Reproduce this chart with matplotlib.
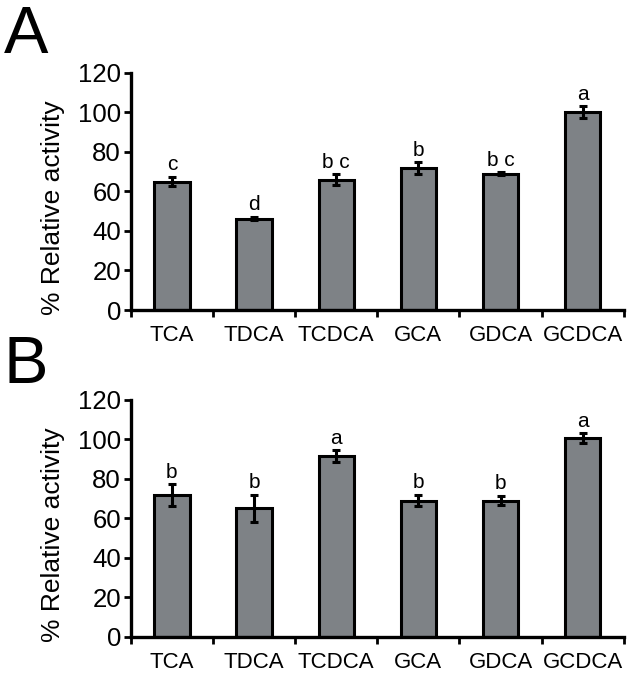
#!/usr/bin/env python3
"""Relative activity of bile acid conjugates, panels A and B."""

import matplotlib
matplotlib.use("Agg")
import matplotlib.pyplot as plt
import numpy as np

CATEGORIES = ["TCA", "TDCA", "TCDCA", "GCA", "GDCA", "GCDCA"]

A_MEAN = [65, 46.3, 66, 72, 69, 100]
A_ERR = [2.5, 1.0, 2.8, 3.0, 0.8, 3.0]
A_LETTERS = ["c", "d", "b c", "b", "b c", "a"]

B_MEAN = [71.8, 65, 91.5, 69, 69, 100.5]
B_ERR = [5.5, 7.0, 3.0, 3.0, 2.5, 2.5]
B_LETTERS = ["b", "b", "a", "b", "b", "a"]

BAR_COLOR = "#7e8286"
FONT = ["Liberation Sans", "DejaVu Sans"]


def _panel(ax, means, errs, letters):
    x = np.arange(len(CATEGORIES))
    ax.bar(x, means, width=0.43, color=BAR_COLOR, edgecolor="black", linewidth=2.2, zorder=2)
    ax.errorbar(x, means, yerr=errs, fmt="none", ecolor="black", elinewidth=2.2,
                capsize=3, capthick=2.2, zorder=3)
    for xi, m, e, lab in zip(x, means, errs, letters):
        ax.annotate(lab, (xi, m + e), xytext=(0, 4.5), textcoords="offset points",
                    ha="center", va="baseline", fontsize=15, family=FONT)

    ax.set_xlim(-0.5, len(CATEGORIES) - 0.5)
    ax.set_ylim(0, 120)
    ax.set_yticks(np.arange(0, 121, 20))
    ax.set_yticklabels([str(v) for v in range(0, 121, 20)], family=FONT, fontsize=18.5)
    ax.set_xticks(x)
    ax.set_xticklabels(CATEGORIES, family=FONT, fontsize=16)
    ax.set_xticks(np.arange(-0.5, len(CATEGORIES)), minor=True)
    ax.tick_params(axis="x", which="major", length=0, pad=11)
    ax.tick_params(axis="x", which="minor", length=5, width=2, direction="out")
    ax.tick_params(axis="y", length=5, width=2, direction="out", pad=2)
    for side in ("top", "right"):
        ax.spines[side].set_visible(False)
    for side in ("left", "bottom"):
        ax.spines[side].set_linewidth(2.4)
    ax.set_ylabel("% Relative activity", family=FONT, fontsize=19)
    ax.yaxis.set_label_coords(-0.134, 0.43)


def main() -> None:
    fig = plt.figure(figsize=(6.32, 6.74), dpi=100)
    ax_a = fig.add_axes([0.207, 0.540, 0.780, 0.352])
    ax_b = fig.add_axes([0.207, 0.055, 0.780, 0.352])
    _panel(ax_a, A_MEAN, A_ERR, A_LETTERS)
    _panel(ax_b, B_MEAN, B_ERR, B_LETTERS)
    fig.text(0.006, 0.9214, "A", fontsize=48, family=FONT, va="baseline", ha="left")
    fig.text(0.006, 0.4318, "B", fontsize=48, family=FONT, va="baseline", ha="left")
    fig.savefig("out.png", dpi=100)


if __name__ == "__main__":
    main()
